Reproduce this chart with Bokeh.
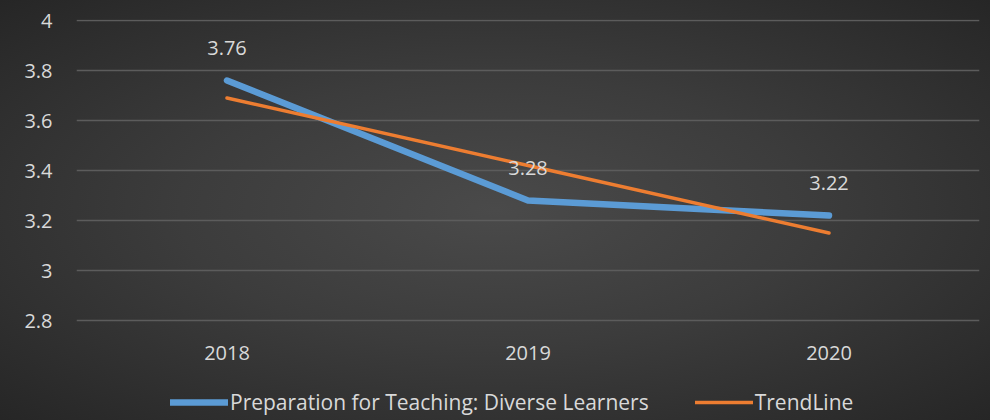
from bokeh.plotting import figure
from bokeh.models import ColumnDataSource, Legend, LegendItem, LabelSet, FixedTicker
from bokeh.core.properties import value
from bokeh.embed import file_html
from bokeh.resources import INLINE

years = ["2018", "2019", "2020"]
scores = [3.76, 3.28, 3.22]
trend = [3.69, 3.42, 3.15]
score_labels = ["3.76", "3.28", "3.22"]
y_ticks = [2.8, 3.0, 3.2, 3.4, 3.6, 3.8, 4.0]
y_min = 2.8
series_name = "Preparation for Teaching: Diverse Learners"
trend_name = "TrendLine"

FONT = "Open Sans"
TXT = "#d9d9d9"
FS = "20px"

src = ColumnDataSource(dict(x=years, y=scores, t=trend, lab=score_labels,
                            base=[y_min] * len(years)))

# frame extends to the bottom of the figure so the legend is not clipped;
# 0.2 units = 50 px, top tick (4) at y = 20 px
p = figure(width=990, height=420, x_range=years, y_range=(2.4, 4.004),
           output_backend="svg", toolbar_location=None,
           min_border_left=76, min_border_right=11, min_border_top=19,
           min_border_bottom=0)
p.border_fill_color = None
p.background_fill_color = None
p.outline_line_color = None
p.styles = {"background": "radial-gradient(ellipse at 50% 50%, #4a4a4a 0%, #3c3c3c 45%, #262626 100%)"}

p.xaxis.visible = False
yax = p.yaxis[0]
yax.ticker = FixedTicker(ticks=y_ticks)
yax.major_label_overrides = {2.8: "2.8", 3.0: "3", 3.2: "3.2", 3.4: "3.4",
                             3.6: "3.6", 3.8: "3.8", 4.0: "4"}
yax.axis_line_color = None
yax.major_tick_line_color = None
yax.minor_tick_line_color = None
yax.major_tick_out = 0
yax.major_tick_in = 0
yax.major_label_text_font = FONT
yax.major_label_text_font_size = FS
yax.major_label_text_color = TXT
yax.major_label_standoff = 24

p.xgrid.grid_line_color = None
p.ygrid.grid_line_color = "#5c5c5c"
p.ygrid.grid_line_width = 1.5

blue = p.line(x="x", y="y", source=src, line_color="#5B9BD5", line_width=6.5,
              line_cap="round", line_join="round")
orange = p.line(x="x", y="t", source=src, line_color="#ED7D31", line_width=3.5,
                line_cap="round", line_join="round")

labels = LabelSet(x="x", y="y", text="lab", source=src, y_offset=33,
                  text_align="center", text_baseline="middle",
                  text_font=value(FONT), text_font_size=value(FS),
                  text_color=TXT)
p.add_layout(labels)

# category labels under the plot area
cat_labels = LabelSet(x="x", y="base", text="x", source=src, y_offset=-32,
                      text_align="center", text_baseline="middle",
                      text_font=value(FONT), text_font_size=value(FS),
                      text_color=TXT)
p.add_layout(cat_labels)

legend = Legend(items=[LegendItem(label=series_name, renderers=[blue]),
                       LegendItem(label=trend_name, renderers=[orange])],
                orientation="horizontal", location=(94, 4),
                glyph_width=58, glyph_height=20, label_standoff=2,
                spacing=46, padding=0, margin=0,
                label_text_font=FONT, label_text_font_size="21px",
                label_text_color=TXT, background_fill_alpha=0,
                border_line_color=None, label_height=20)
p.add_layout(legend, "center")

open("out.html", "w").write(file_html(p, INLINE))
